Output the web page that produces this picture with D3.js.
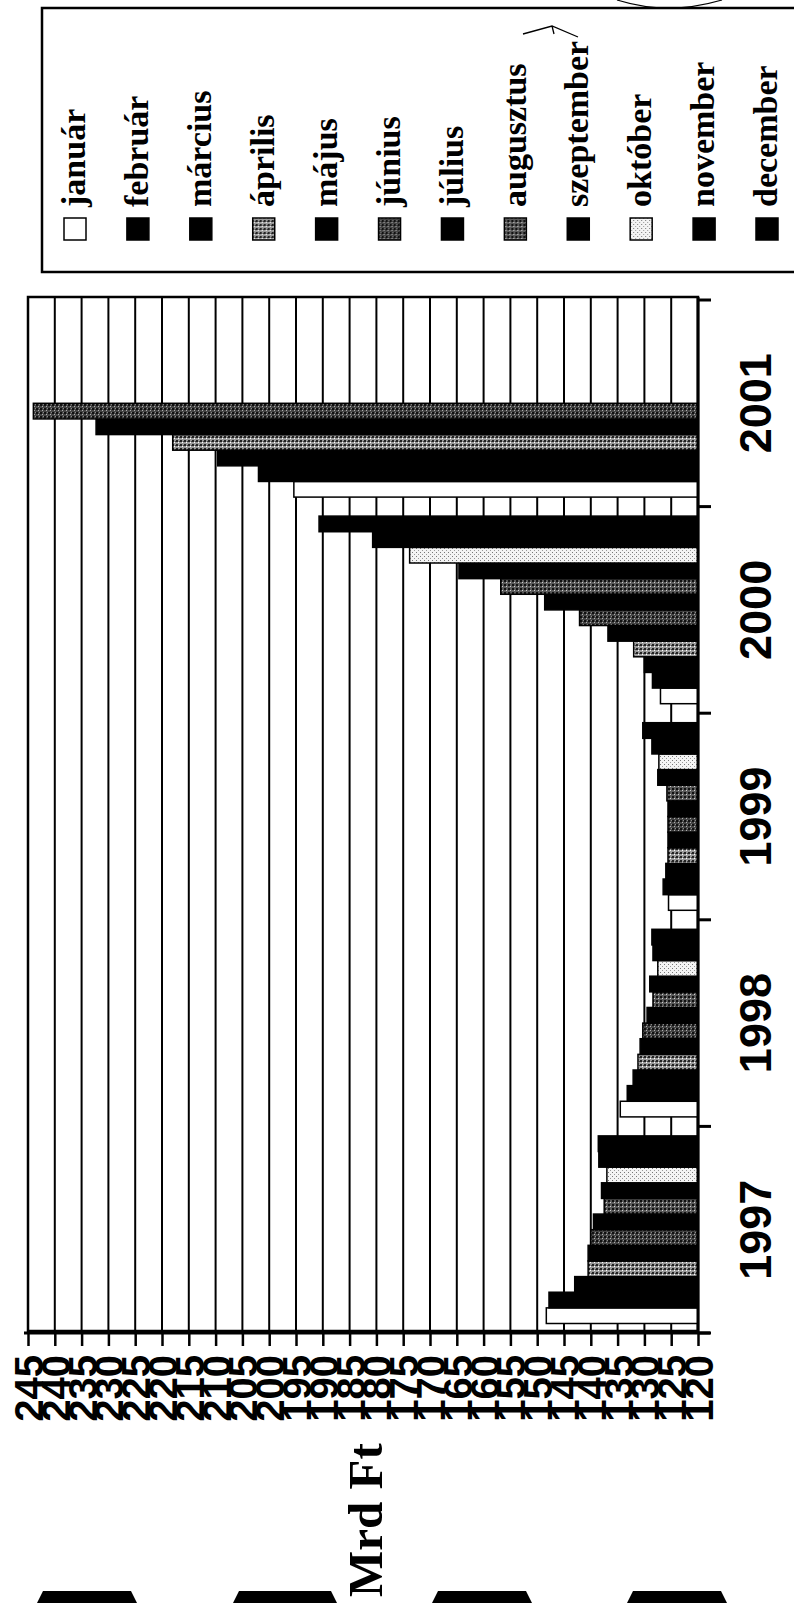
<!DOCTYPE html>
<html>
<head>
<meta charset="utf-8">
<script src="https://cdn.jsdelivr.net/npm/d3@7"></script>
<style>
  body { margin: 0; background: #fff; }
  svg { display: block; }
</style>
</head>
<body>
<div id="chart"></div>
<script>
// data (Mrd Ft, monthly)
const months = ["január", "február", "március", "április", "május", "június",
                "július", "augusztus", "szeptember", "október", "november", "december"];
const years = ["1997", "1998", "1999", "2000", "2001"];

const v1997 = [148.3, 147.8, 143.0, 140.5, 140.5, 140.0, 139.5, 137.5, 138.0, 137.0, 138.5, 138.6];
const v1998 = [134.5, 133.2, 132.1, 131.2, 130.8, 130.3, 129.5, 128.4, 129.0, 127.5, 128.4, 128.6];
const v1999 = [125.5, 126.5, 126.0, 125.6, 125.6, 125.6, 125.6, 125.8, 127.5, 127.3, 128.6, 130.3];
const v2000 = [127.0, 128.5, 130.0, 132.0, 136.8, 142.1, 148.6, 156.8, 164.6, 173.8, 180.7, 190.7];
const v2001 = [195.4, 202.0, 209.6, 218.0, 232.3, 244.0];

const valueTicks = d3.range(120, 246, 5);

// fill per month: solid, or one of the scanned grey patterns
const monthFill = ["#fff", "#000", "#000", "url(#pApr)", "#000", "url(#pJun)",
                   "#000", "url(#pAug)", "#000", "url(#pOkt)", "#000", "#000"];

const W = 794, H = 1603;
const svg = d3.select("#chart").append("svg")
  .attr("width", W)
  .attr("height", H);

svg.append("rect").attr("width", W).attr("height", H).attr("fill", "#fff");

// patterns
const defs = svg.append("defs");
function addPattern(id, bg, dots) {
  const p = defs.append("pattern")
    .attr("id", id)
    .attr("patternUnits", "userSpaceOnUse")
    .attr("width", 4).attr("height", 4);
  p.append("rect").attr("width", 4).attr("height", 4).attr("fill", bg);
  dots.forEach(d => {
    p.append("rect").attr("x", d[0]).attr("y", d[1])
      .attr("width", d[2]).attr("height", d[2]).attr("fill", d[3]);
  });
}
addPattern("pApr", "#9a9a9a", [[0, 0, 2, "#222"], [2, 2, 1, "#fff"], [3, 1, 1, "#444"]]);
addPattern("pJun", "#444", [[0, 0, 2, "#111"], [2, 2, 1, "#b0b0b0"], [3, 0, 1, "#888"]]);
addPattern("pAug", "#5a5a5a", [[0, 0, 2, "#111"], [2, 2, 1, "#d0d0d0"]]);
addPattern("pOkt", "#f4f4f4", [[0, 0, 1, "#777"], [2, 2, 1, "#999"]]);

// layout (chart is rotated: categories run up the right side)
const plot = { left: 28, right: 698, top: 297, bottom: 1331 };

const x = d3.scaleLinear()
  .domain([120, 245])
  .range([plot.right, plot.left]);

const yYear = d3.scaleBand()
  .domain(years)
  .range([1333, 300])
  .paddingInner(0)
  .paddingOuter(0);

const gapOuter = 9.5;
const yMonth = d3.scaleBand()
  .domain(months)
  .range([yYear.bandwidth() - gapOuter, gapOuter])
  .paddingInner(0);

// legend
const legend = svg.append("g").attr("class", "legend");
legend.append("rect")
  .attr("x", 42).attr("y", 8)
  .attr("width", 800).attr("height", 264)
  .attr("fill", "none")
  .attr("stroke", "#000")
  .attr("stroke-width", 2.5);

const legendX = d3.scalePoint()
  .domain(months)
  .range([75, 767]);

const item = legend.selectAll("g.item")
  .data(months)
  .enter()
  .append("g")
  .attr("class", "item")
  .attr("transform", d => `translate(${legendX(d)},0)`);

item.append("rect")
  .attr("x", -11).attr("y", 218)
  .attr("width", 22).attr("height", 22)
  .attr("fill", (d, i) => monthFill[i])
  .attr("stroke", "#000")
  .attr("stroke-width", 1.5);

item.append("text")
  .attr("transform", "translate(0,207) rotate(-90)")
  .attr("dy", "0.3em")
  .attr("text-anchor", "start")
  .attr("font-family", "'Liberation Serif', 'Times New Roman', serif")
  .attr("font-weight", "bold")
  .attr("font-size", 34)
  .attr("fill", "#000")
  .text(d => d);

// hand-drawn marks on the scan
svg.append("path")
  .attr("d", "M617,0 Q668,16 722,0")
  .attr("fill", "none").attr("stroke", "#000").attr("stroke-width", 1.2);
svg.append("path")
  .attr("d", "M523,34 L552,26 L578,37 M552,26 L554,34")
  .attr("fill", "none").attr("stroke", "#000").attr("stroke-width", 1.3);

// plot frame + gridlines
svg.append("rect")
  .attr("x", plot.left).attr("y", plot.top)
  .attr("width", plot.right - plot.left)
  .attr("height", plot.bottom - plot.top)
  .attr("fill", "#fff")
  .attr("stroke", "#000")
  .attr("stroke-width", 2.5);

svg.append("g").attr("class", "grid")
  .selectAll("line")
  .data(valueTicks)
  .enter()
  .append("line")
  .attr("x1", d => x(d)).attr("x2", d => x(d))
  .attr("y1", plot.top).attr("y2", plot.bottom)
  .attr("stroke", "#000")
  .attr("stroke-width", 2);

// bars
const series = { "1997": v1997, "1998": v1998, "1999": v1999, "2000": v2000, "2001": v2001 };
const barData = [];
years.forEach(yr => {
  series[yr].forEach((v, i) => barData.push({ year: yr, month: months[i], idx: i, value: v }));
});

svg.append("g").attr("class", "bars")
  .selectAll("rect")
  .data(barData)
  .enter()
  .append("rect")
  .attr("x", d => x(d.value))
  .attr("y", d => yYear(d.year) + yMonth(d.month))
  .attr("width", d => x(120) - x(d.value))
  .attr("height", yMonth.bandwidth())
  .attr("fill", d => monthFill[d.idx])
  .attr("stroke", "#000")
  .attr("stroke-width", 1.5);

// value axis (along the bottom, labels turned)
const xAxis = d3.axisBottom(x)
  .tickValues(valueTicks)
  .tickSize(13)
  .tickSizeOuter(0)
  .tickFormat(d3.format("d"));

const gx = svg.append("g")
  .attr("transform", `translate(0,${plot.bottom + 2})`)
  .call(xAxis);
gx.select(".domain").attr("stroke", "#000").attr("stroke-width", 3)
  .attr("d", `M${plot.left - 4},0H${plot.right + 12}`);
gx.selectAll(".tick line").attr("stroke", "#000").attr("stroke-width", 2.5);
gx.selectAll(".tick text")
  .attr("x", 0).attr("y", 0)
  .attr("dy", "0.36em")
  .attr("transform", "translate(0,22) rotate(-90)")
  .attr("text-anchor", "end")
  .attr("font-family", "'Liberation Sans', Arial, sans-serif")
  .attr("font-weight", "bold")
  .attr("font-size", 40)
  .attr("fill", "#000");

// category axis (right side), ticks between years
const gy = svg.append("g").attr("class", "cat-axis");
gy.append("line")
  .attr("x1", plot.right).attr("x2", plot.right)
  .attr("y1", plot.top).attr("y2", plot.bottom + 2)
  .attr("stroke", "#000").attr("stroke-width", 3);

const bounds = years.map(yr => yYear(yr)).concat([yYear("1997") + yYear.bandwidth()]);
gy.selectAll("line.tick")
  .data(bounds)
  .enter()
  .append("line")
  .attr("class", "tick")
  .attr("x1", plot.right).attr("x2", plot.right + 13)
  .attr("y1", d => d).attr("y2", d => d)
  .attr("stroke", "#000").attr("stroke-width", 3);

gy.selectAll("text")
  .data(years)
  .enter()
  .append("text")
  .attr("transform", d => `translate(755,${yYear(d) + yYear.bandwidth() / 2}) rotate(-90)`)
  .attr("dy", "0.36em")
  .attr("text-anchor", "middle")
  .attr("font-family", "'Liberation Sans', Arial, sans-serif")
  .attr("font-weight", "bold")
  .attr("font-size", 45)
  .attr("fill", "#000")
  .text(d => d);

// unit label
svg.append("text")
  .attr("transform", "translate(365,1520) rotate(-90)")
  .attr("dy", "0.35em")
  .attr("text-anchor", "middle")
  .attr("font-family", "'Liberation Serif', 'Times New Roman', serif")
  .attr("font-weight", "bold")
  .attr("font-size", 49)
  .attr("fill", "#000")
  .text("Mrd Ft");

// black shapes cut off at the bottom edge of the scan
const blobs = [[37, 137], [233, 337], [432, 532], [627, 727]];
svg.append("g").selectAll("path")
  .data(blobs)
  .enter()
  .append("path")
  .attr("d", d => `M${d[0] + 6},1591L${d[1] - 6},1591L${d[1]},${H}L${d[0]},${H}Z`)
  .attr("fill", "#000");
</script>
</body>
</html>
